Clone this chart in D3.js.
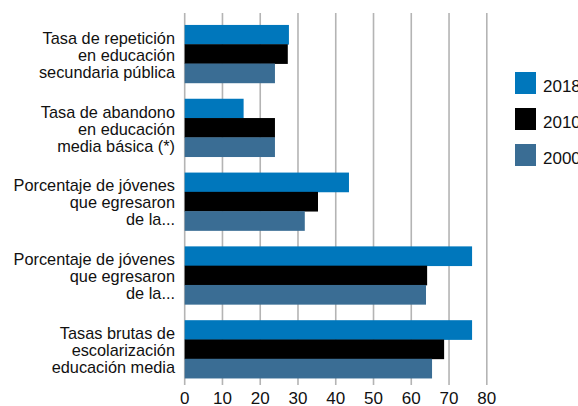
<!DOCTYPE html>
<html>
<head>
<meta charset="utf-8">
<script src="https://cdn.jsdelivr.net/npm/d3@7"></script>
<style>
  html, body { margin: 0; padding: 0; background: #fff; }
  svg { display: block; font-family: "Liberation Sans", Arial, Helvetica, sans-serif; }
</style>
</head>
<body>
<svg id="chart" width="578" height="406"></svg>
<script>
// Indicator labels, one array of text lines per category
const categories = [
  ["Tasa de repetición", "en educación", "secundaria pública"],
  ["Tasa de abandono", "en educación", "media básica (*)"],
  ["Porcentaje de jóvenes", "que egresaron", "de la..."],
  ["Porcentaje de jóvenes", "que egresaron", "de la..."],
  ["Tasas brutas de", "escolarización", "educación media"]
];
const seriesNames = ["2018", "2010", "2000"];
const values2018 = [27.6, 15.6, 43.5, 76.1, 76.1];
const values2010 = [27.3, 23.9, 35.3, 64.2, 68.7];
const values2000 = [23.9, 23.9, 31.8, 63.9, 65.5];
const xTicks = [0, 10, 20, 30, 40, 50, 60, 70, 80];
const seriesColors = ["#0077bc", "#000000", "#3a6d94"];

const seriesValues = [values2018, values2010, values2000];
const svg = d3.select("#chart");

// Category labels are set slightly narrow
const squeeze = 0.96;
const fontSize = 17;

const x = d3.scaleLinear().domain([0, 80]).range([184.7, 486.8]);
const catIdx = categories.map((_, i) => i);
const y = d3.scaleBand().domain(catIdx).range([13.5, 389.5])
  .paddingInner(0.216).paddingOuter(0.155);
const ySeries = d3.scaleBand().domain(seriesNames).range([0, y.bandwidth()]);

// Vertical gridlines, extending below the plot as tick marks
svg.append("g")
  .selectAll("line")
  .data(xTicks)
  .join("line")
  .attr("x1", d => x(d)).attr("x2", d => x(d))
  .attr("y1", 13).attr("y2", 385)
  .attr("stroke", "#b4b4b4")
  .attr("stroke-width", 1.6);

// Bars
const groups = svg.append("g")
  .selectAll("g")
  .data(catIdx)
  .join("g")
  .attr("transform", i => `translate(0,${y(i)})`);

groups.selectAll("rect")
  .data(i => seriesNames.map((s, k) => ({ s, k, v: seriesValues[k][i] })))
  .join("rect")
  .attr("x", x(0))
  .attr("y", d => ySeries(d.s))
  .attr("width", d => x(d.v) - x(0))
  .attr("height", ySeries.bandwidth() + 0.4)
  .attr("fill", d => seriesColors[d.k]);

// Category labels
const labels = svg.append("g")
  .attr("transform", `translate(175,0) scale(${squeeze},1)`)
  .selectAll("text")
  .data(catIdx)
  .join("text")
  .attr("text-anchor", "end")
  .attr("font-size", fontSize)
  .attr("fill", "#111");

labels.selectAll("tspan")
  .data(i => categories[i].map((t, j) => ({ t, j, i })))
  .join("tspan")
  .attr("x", 0)
  .attr("y", d => y(d.i) + y.bandwidth() / 2 + 7 + (d.j - 1) * 17)
  .text(d => d.t);

// X axis tick labels
svg.append("g")
  .selectAll("text")
  .data(xTicks)
  .join("text")
  .attr("x", d => x(d))
  .attr("y", 404)
  .attr("text-anchor", "middle")
  .attr("font-size", fontSize)
  .attr("fill", "#111")
  .text(d => d);

// Legend
const legend = svg.append("g")
  .selectAll("g")
  .data(seriesNames)
  .join("g")
  .attr("transform", (d, k) => `translate(515,${72 + k * 36})`);

legend.append("rect")
  .attr("width", 21).attr("height", 22)
  .attr("fill", (d, k) => seriesColors[k]);

legend.append("text")
  .attr("x", 28).attr("y", 20)
  .attr("font-size", fontSize)
  .attr("fill", "#111")
  .text(d => d);
</script>
</body>
</html>
